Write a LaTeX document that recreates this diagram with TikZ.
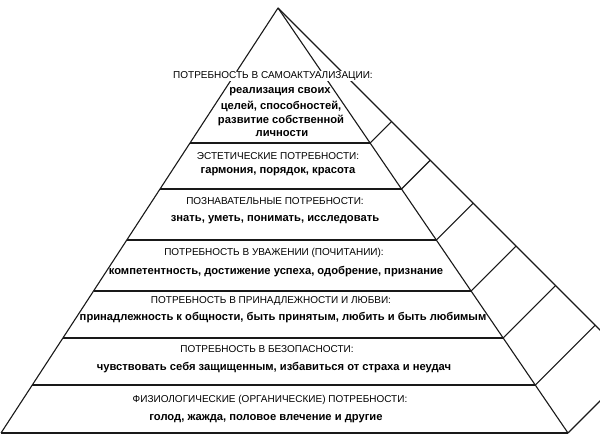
\documentclass[tikz,border=0pt]{standalone}
\usepackage{fontspec}
\setmainfont{Liberation Sans}
\begin{document}
\begin{tikzpicture}[x=1pt,y=-1pt,
  edge/.style={line width=1.1pt,line join=round,draw=black!90},
  tier/.style={line width=1.6pt,draw=black!90},
  captxt/.style={font=\fontsize{10}{11}\selectfont,inner sep=0.5pt},
  desc/.style={font=\bfseries\fontsize{11.2}{12}\selectfont,inner sep=0pt}]
\useasboundingbox (0,0) rectangle (600,445);
\clip (0,0) rectangle (600,445);
\fill[white] (0,0) rectangle (600,445);
\coordinate (A) at (278,8);
\coordinate (L) at (1,433);
\coordinate (R) at (568,433);
\coordinate (B) at (720,450);
\foreach \i/\xl/\xf/\yf/\xs/\ys in {
  1/190.0/370.1/143/391.55/121.55,
  2/160.0/401.5/189/430.25/160.25,
  3/126.8/436.3/240/473.15/203.15,
  4/93.5/471.1/291/516.05/246.05,
  5/62.9/503.2/338/555.6/285.6,
  6/32.3/535.3/385/595.15/325.15}{
  \coordinate (G\i) at (\xl,\yf);
  \coordinate (F\i) at (\xf,\yf);
  \coordinate (S\i) at (\xs,\ys);
}
\coordinate (S7) at (635.5,365.5);
\draw[edge] (L) -- (A) -- (R);
\draw[edge] (A) -- (B);
\draw[tier] (L) -- (R);
\foreach \i in {1,...,6}{
  \draw[tier] (G\i) -- (F\i);
  \draw[edge] (F\i) -- (S\i);
}
\draw[edge] (R) -- (S7);
% layer 1
\node[captxt,fill=white] (t1) at (273,76) {ПОТРЕБНОСТЬ В САМОАКТУАЛИЗАЦИИ:};
\node[desc] (d1a) at (280,92) {реализация своих};
\node[desc] (d1b) at (281,106) {целей, способностей,};
\node[desc] (d1c) at (281,120) {развитие собственной};
\node[desc] (d1d) at (282,134) {личности};
% layer 2
\node[captxt] (t2) at (278,156) {ЭСТЕТИЧЕСКИЕ ПОТРЕБНОСТИ:};
\node[desc] (d2) at (278,172) {гармония, порядок, красота};
% layer 3
\node[captxt] (t3) at (275,201) {ПОЗНАВАТЕЛЬНЫЕ ПОТРЕБНОСТИ:};
\node[desc] (d3) at (275,220) {знать, уметь, понимать, исследовать};
% layer 4
\node[captxt] (t4) at (274,253) {ПОТРЕБНОСТЬ В УВАЖЕНИИ (ПОЧИТАНИИ):};
\node[desc] (d4) at (276,272) {компетентность, достижение успеха, одобрение, признание};
% layer 5
\node[captxt] (t5) at (271,301) {ПОТРЕБНОСТЬ В ПРИНАДЛЕЖНОСТИ И ЛЮБВИ:};
\node[desc] (d5) at (283,318) {принадлежность к общности, быть принятым, любить и быть любимым};
% layer 6
\node[captxt] (t6) at (267,349) {ПОТРЕБНОСТЬ В БЕЗОПАСНОСТИ:};
\node[desc] (d6) at (274,368) {чувствовать себя защищенным, избавиться от страха и неудач};
% layer 7
\node[captxt] (t7) at (270,400) {ФИЗИОЛОГИЧЕСКИЕ (ОРГАНИЧЕСКИЕ) ПОТРЕБНОСТИ:};
\node[desc] (d7) at (266,419) {голод, жажда, половое влечение и другие};
\end{tikzpicture}
\end{document}
